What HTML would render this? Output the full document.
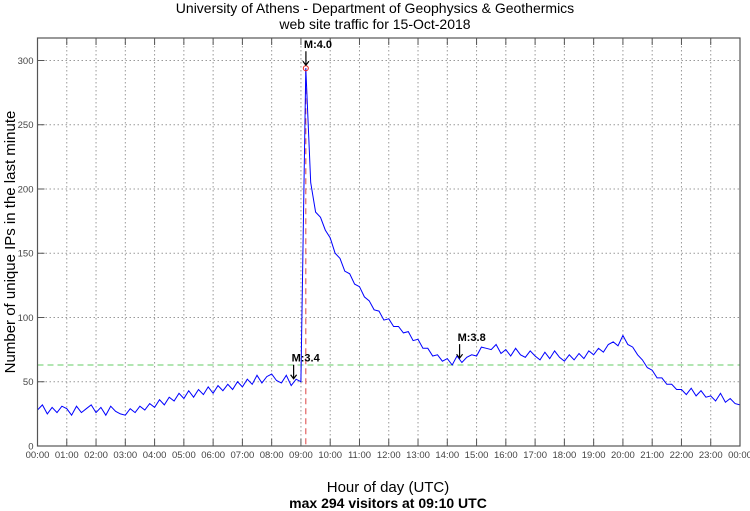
<!DOCTYPE html>
<html><head><meta charset="utf-8"><style>
html,body{margin:0;padding:0;background:#fff;}
svg{display:block;font-family:"Liberation Sans",sans-serif;}
</style></head><body>
<svg id="c" width="750" height="511" xmlns="http://www.w3.org/2000/svg">
<text x="375" y="13" font-size="14" text-anchor="middle">University of Athens - Department of Geophysics &amp; Geothermics</text>
<text x="375" y="29" font-size="14" text-anchor="middle">web site traffic for 15-Oct-2018</text>
<text transform="translate(15,242) rotate(-90)" font-size="15" text-anchor="middle">Number of unique IPs in the last minute</text>
<text x="388" y="492" font-size="15" text-anchor="middle">Hour of day (UTC)</text>
<text x="388" y="508" font-size="14" font-weight="bold" text-anchor="middle">max 294 visitors at 09:10 UTC</text>
<g id="grid"></g><g id="ticks"></g><g id="series"></g><g id="ann"></g>
<rect x="37.5" y="38" width="702.5" height="408" fill="none" stroke="#555" stroke-width="1.2"/>
</svg>
<script>
const hours = ["00:00","01:00","02:00","03:00","04:00","05:00","06:00","07:00","08:00","09:00","10:00","11:00","12:00","13:00","14:00","15:00","16:00","17:00","18:00","19:00","20:00","21:00","22:00","23:00","00:00"];
const yTicks = [0,50,100,150,200,250,300];
// visitors every 10 minutes from 00:00 to 24:00
const visitors = [
28,32,25,30,26,31, 29,24,31,26,29,32, 26,30,24,31,27,25, 24,29,26,31,28,33,
30,36,32,38,35,41, 37,43,38,44,40,46, 41,47,43,48,44,50, 46,52,48,55,49,54,
56,51,49,55,47,52, 50,294,205,182,178,168, 162,150,146,136,134,126, 124,116,113,106,105,98,
99,93,93,88,89,82, 83,76,76,70,71,66, 68,63,70,65,69,71, 70,77,76,75,79,72,
75,70,76,71,69,74, 70,67,73,68,74,69, 66,71,67,72,68,74, 71,76,73,79,81,78,
86,79,77,71,67,61, 59,53,53,48,48,44, 44,40,45,39,43,38, 39,35,41,34,37,33, 32];
const stepMinutes = 10;
const quakeLabels = ["M:3.4","M:4.0","M:3.8"];
const quakeTimes = [8.75,9.17,14.42];
const quakeValues = [50,294,66];
const avgLevel = 63;
const peakTime = 9.1667, peakValue = 294;

const L=37.5,R=740,T=38,B=446,YMAX=317.5;
const sx=h=>L+(R-L)*h/24;
const sy=v=>B-(B-T)*v/YMAX;
const NS="http://www.w3.org/2000/svg";
function mk(tag,attrs,parent){const e=document.createElementNS(NS,tag);for(const k in attrs)e.setAttribute(k,attrs[k]);parent.appendChild(e);return e;}
const grid=document.getElementById('grid'),ticks=document.getElementById('ticks'),series=document.getElementById('series'),ann=document.getElementById('ann');
hours.forEach((h,i)=>{const x=sx(i);
 if(i>0&&i<24){const g=mk('line',{x1:x,x2:x,y1:T,y2:B,stroke:'#999','stroke-dasharray':'1.5,2.5','stroke-width':1},grid);
 
 
 const t1=mk('line',{x1:x,x2:x,y1:B,y2:B-7,stroke:'#555'},ticks);
 
 
 const t2=mk('line',{x1:x,x2:x,y1:T,y2:T+7,stroke:'#555'},ticks);
 
 }
 const tx=mk('text',{x:x,y:458,'font-size':9.5,fill:'#444','text-anchor':'middle'},ticks);tx.textContent=h;
 
 
});
yTicks.forEach(v=>{const y=sy(v);
 if(v>0){const g=mk('line',{x1:L,x2:R,y1:y,y2:y,stroke:'#999','stroke-dasharray':'1.5,2.5'},grid);
 
 
 const t=mk('line',{x1:L,x2:L+7,y1:y,y2:y,stroke:'#555'},ticks);
 
 }
 const tx=mk('text',{x:L-4,y:y+3.5,'font-size':9.5,fill:'#444','text-anchor':'end'},ticks);tx.textContent=v;
 
 
});
const avg=mk('line',{x1:L,x2:R,y1:sy(avgLevel),y2:sy(avgLevel),stroke:'#6c6','stroke-dasharray':'6,4','stroke-width':1},series);


const vl=mk('line',{x1:sx(peakTime),x2:sx(peakTime),y1:sy(peakValue),y2:B,stroke:'#d44','stroke-dasharray':'6,4','stroke-width':1},series);


const pts=visitors.map((v,i)=>sx(i*stepMinutes/60).toFixed(1)+','+sy(v).toFixed(1)).join(' ');
const pl=mk('polyline',{points:pts,fill:'none',stroke:'#00f','stroke-width':1},series);


const pc=mk('circle',{cx:sx(peakTime),cy:sy(peakValue),r:2.5,fill:'none',stroke:'#e22','stroke-width':1},series);


quakeLabels.forEach((lab,i)=>{const x=sx(quakeTimes[i]),y=sy(quakeValues[i])-3;
 const a=mk('path',{d:`M${x},${y-14}L${x},${y}M${x-3},${y-4}L${x},${y}L${x+3},${y-4}`,stroke:'#000',fill:'none','stroke-width':1.2},ann);
 
 
 const t=mk('text',{x:x-2,y:y-17,'font-size':11,'font-weight':'bold'},ann);t.textContent=lab;
 
 
});
</script>
</body></html>
